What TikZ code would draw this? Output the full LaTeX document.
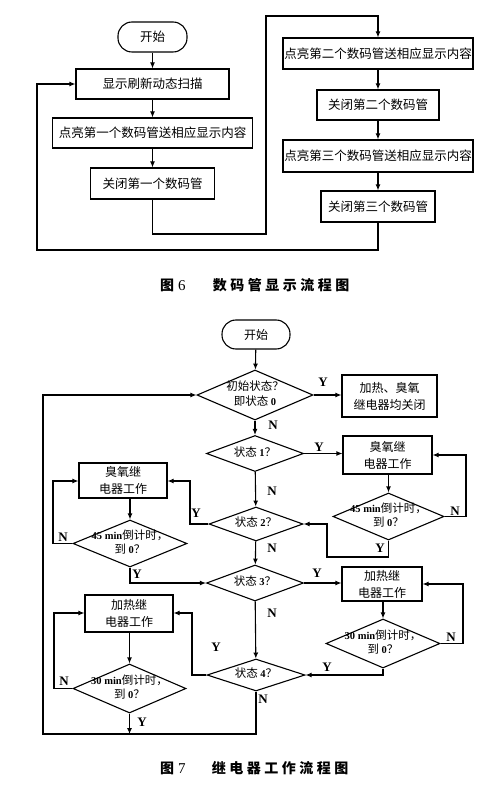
\documentclass[tikz,border=0pt]{standalone}
\usepackage{fontspec}
\setmainfont{Liberation Serif}
\newfontfamily\cjk{Noto Sans CJK SC}
\newfontfamily\cjkcap[LetterSpace=25]{Noto Sans CJK SC}
\usetikzlibrary{shapes.geometric,arrows.meta}
\newcommand\lat[1]{{\rmfamily\bfseries\fontsize{10.5}{14.5}\selectfont #1}}
\newcommand\dtxt[1]{\makebox[0pt]{\begin{tabular}{@{}c@{}}#1\end{tabular}}}
\begin{document}
\begin{tikzpicture}[x=1pt,y=-1pt,
  every node/.style={font=\cjk\fontsize{12}{17}\selectfont},
  arr/.style={line width=1.1pt,-{Latex[length=6pt,width=5pt]}},
  box/.style={draw,line width=1.1pt,rectangle,inner sep=0pt,align=center},
  term/.style={draw,line width=1.1pt,rounded corners=14pt,inner sep=0pt},
  top/.style={font=\cjk\fontsize{12.5}{15}\selectfont},
  dia/.style={draw,line width=1.1pt,diamond,inner sep=0pt,aspect=1,font=\cjk\fontsize{11.5}{14.5}\selectfont},
  lbl/.style={font=\rmfamily\bfseries\fontsize{13}{13}\selectfont,inner sep=0pt},
  captxt/.style={font=\cjkcap\bfseries\fontsize{14}{14}\selectfont,inner sep=0pt}
]
\useasboundingbox[fill=white] (0,0) rectangle (500,786);
% ---------- Figure 6 ----------
\node[term,top,minimum width=69,minimum height=30] (s1) at (152.5,37) {开始};
\node[box,top,minimum width=153,minimum height=30] (b1) at (152.5,84) {显示刷新动态扫描};
\node[box,top,minimum width=200,minimum height=30] (b2) at (152.5,133) {点亮第一个数码管送相应显示内容};
\node[box,top,minimum width=124,minimum height=31] (b3) at (152.5,183.5) {关闭第一个数码管};
\node[box,top,minimum width=190,minimum height=31] (b4) at (378,53.5) {点亮第二个数码管送相应显示内容};
\node[box,top,minimum width=122,minimum height=30] (b5) at (378,105) {关闭第二个数码管};
\node[box,top,minimum width=190,minimum height=32] (b6) at (378,156) {点亮第三个数码管送相应显示内容};
\node[box,top,minimum width=114,minimum height=31] (b7) at (378,206.5) {关闭第三个数码管};
\coordinate (t1) at (266,234);
\coordinate (t2) at (266,16);
\coordinate (t3) at (37,250);
\draw[arr] (s1) -- (b1);
\draw[arr] (b1) -- (b2);
\draw[arr] (b2) -- (b3);
\draw[arr] (b3.south) |- (t1) -- (t2) -| (b4.north);
\draw[arr] (b4) -- (b5);
\draw[arr] (b5) -- (b6);
\draw[arr] (b6) -- (b7);
\draw[arr] (b7.south) |- (t3) |- (b1.west);
\node[captxt,anchor=west] (c6a) at (160,285) {图\hspace{4pt}{\rmfamily\mdseries\fontsize{15}{15}\selectfont 6}};
\node[captxt] (c6b) at (281,285) {数码管显示流程图};
% ---------- Figure 7 ----------
\node[term,minimum width=68,minimum height=29] (s2) at (256,334.5) {开始};
\node[dia,minimum width=116,minimum height=50] (d0) at (255,395) {\dtxt{初始状态？\\即状态 \lat{0}}};
\node[box,minimum width=95,minimum height=42] (r0) at (389.5,396) {加热、臭氧\\继电器均关闭};
\node[dia,minimum width=97,minimum height=36] (d1) at (255,453.5) {\dtxt{状态 \lat{1}？}};
\node[box,minimum width=89,minimum height=38] (r1) at (387.5,455) {臭氧继\\电器工作};
\node[dia,minimum width=111,minimum height=47] (d1r) at (388.5,516.5) {\dtxt{\lat{45 min}倒计时，\\到 \lat{0}？}};
\node[dia,minimum width=94,minimum height=34] (d2) at (256,524) {\dtxt{状态 \lat{2}？}};
\node[box,minimum width=88,minimum height=35] (l1) at (123,480.5) {臭氧继\\电器工作};
\node[dia,minimum width=114,minimum height=47] (dl1) at (130,543.5) {\dtxt{\lat{45 min}倒计时，\\到 \lat{0}？}};
\node[dia,minimum width=97,minimum height=36] (d3) at (255,583) {\dtxt{状态 \lat{3}？}};
\node[box,minimum width=80,minimum height=34] (r2) at (382,584) {加热继\\电器工作};
\node[dia,minimum width=114,minimum height=49] (d3r) at (383,643.5) {\dtxt{\lat{30 min}倒计时，\\到 \lat{0}？}};
\node[dia,minimum width=98,minimum height=32] (d4) at (256,675) {\dtxt{状态 \lat{4}？}};
\node[box,minimum width=88,minimum height=37] (l2) at (129,613.5) {加热继\\电器工作};
\node[dia,minimum width=113,minimum height=49] (dl2) at (129.5,688.5) {\dtxt{\lat{30 min}倒计时，\\到 \lat{0}？}};
\coordinate (c1) at (466,455);
\coordinate (c2) at (327,557);
\coordinate (c3) at (190,481);
\coordinate (c4) at (53,481);
\coordinate (c5) at (463,584);
\coordinate (c7) at (192,613);
\coordinate (c8) at (54,613);
\coordinate (c9) at (43,734);
\draw[arr] (s2) -- (d0);
\draw[arr] (d0.east) -- (d0.east -| r0.west);
\draw[arr] (d0) -- (d1);
\draw[arr] (d1.east) -- (d1.east -| r1.west);
\draw[arr] (r1.south -| d1r.north) -- (d1r.north);
\draw[arr] (d1r.east) -| (c1) -- (r1.east);
\draw[arr] (d1r.south) |- (c2) |- (d2.east);
\draw[arr] (d1) -- (d2);
\draw[arr] (d2.west) -| (c3) -- (c3 -| l1.east);
\draw[arr] (l1.south -| dl1.north) -- (dl1.north);
\draw[arr] (dl1.west) -| (c4) -- (c4 -| l1.west);
\draw[arr] (dl1.south) |- (d3.west);
\draw[arr] (d2) -- (d3);
\draw[arr] (d3.east) -- (d3.east -| r2.west);
\draw[arr] (r2.south -| d3r.north) -- (d3r.north);
\draw[arr] (d3r.east) -| (c5) -- (r2.east);
\draw[arr] (d3r.south) |- (d4.east);
\draw[arr] (d3) -- (d4);
\draw[arr] (d4.west) -| (c7) -- (c7 -| l2.east);
\draw[arr] (l2.south -| dl2.north) -- (dl2.north);
\draw[arr] (dl2.west) -| (c8) -- (c8 -| l2.west);
\draw[arr] (dl2.south) -- (dl2.south |- c9);
\draw[arr] (d4.south) |- (c9) |- (d0.west);
% labels
\node[lbl] (y0) at (323,382) {Y};
\node[lbl] (n0) at (273,425) {N};
\node[lbl] (y1) at (319,447) {Y};
\node[lbl] (n1) at (272,491) {N};
\node[lbl] (n1r) at (455,511) {N};
\node[lbl] (y1r) at (380,548) {Y};
\node[lbl] (y2) at (196,513) {Y};
\node[lbl] (n2) at (272,548) {N};
\node[lbl] (nl1) at (63,537) {N};
\node[lbl] (yl1) at (137,574) {Y};
\node[lbl] (y3) at (317,573) {Y};
\node[lbl] (n3) at (272,613) {N};
\node[lbl] (n3r) at (451,637) {N};
\node[lbl] (y3r) at (327,667) {Y};
\node[lbl] (y4) at (216,647) {Y};
\node[lbl] (n4) at (263,699) {N};
\node[lbl] (nl2) at (64,681) {N};
\node[lbl] (yl2) at (142,722) {Y};
\node[captxt,anchor=west] (c7a) at (160,768) {图\hspace{4pt}{\rmfamily\mdseries\fontsize{15}{15}\selectfont 7}};
\node[captxt] (c7b) at (280,768) {继电器工作流程图};
\end{tikzpicture}
\end{document}
